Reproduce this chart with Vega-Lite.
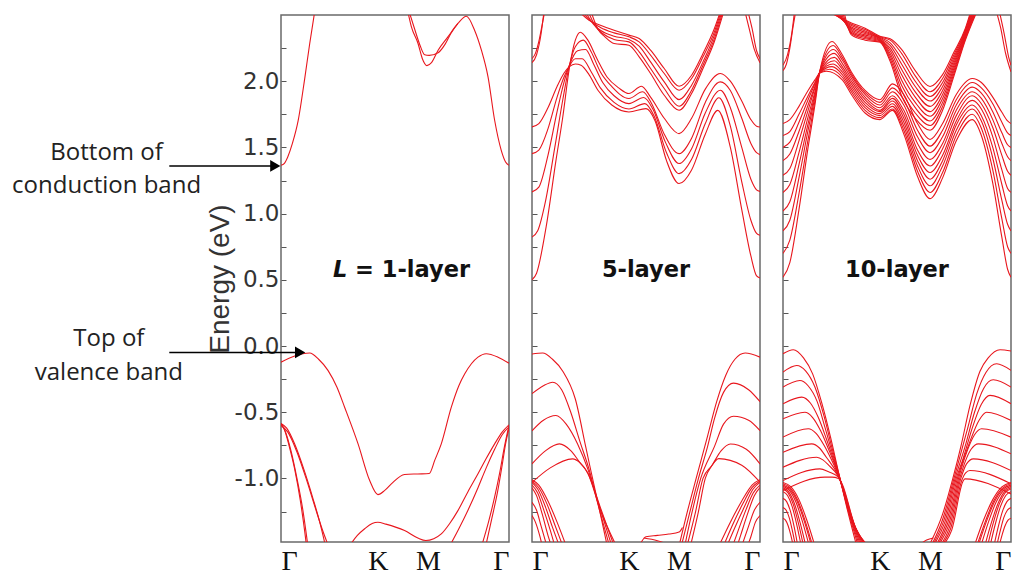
{
"$schema":"https://vega.github.io/schema/vega-lite/v6.json",
"background":"white",
"padding":{"left":11,"top":14,"right":4,"bottom":0},
"config":{"view":{"stroke":"#6a6a6a","strokeWidth":1.5},"concat":{"spacing":20},"axis":{"grid":false,"domain":false,"tickColor":"#555"}},
"datasets":{
"p1":[
{"s":"c1","x":0,"e":1.365},{"s":"c1","x":0.015,"e":1.38},{"s":"c1","x":0.03,"e":1.43},{"s":"c1","x":0.05,"e":1.53},{"s":"c1","x":0.075,"e":1.70},{"s":"c1","x":0.104,"e":2.02},{"s":"c1","x":0.126,"e":2.285},{"s":"c1","x":0.15,"e":2.55},
{"s":"c2","x":0.557,"e":2.52},{"s":"c2","x":0.572,"e":2.41},{"s":"c2","x":0.601,"e":2.285},{"s":"c2","x":0.62,"e":2.17},{"s":"c2","x":0.64,"e":2.118},{"s":"c2","x":0.66,"e":2.14},{"s":"c2","x":0.689,"e":2.234},{"s":"c2","x":0.732,"e":2.335},{"s":"c2","x":0.776,"e":2.436},{"s":"c2","x":0.813,"e":2.49},{"s":"c2","x":0.849,"e":2.385},{"s":"c2","x":0.879,"e":2.234},{"s":"c2","x":0.908,"e":2.033},{"s":"c2","x":0.937,"e":1.705},{"s":"c2","x":0.966,"e":1.478},{"s":"c2","x":0.985,"e":1.39},{"s":"c2","x":1,"e":1.365},
{"s":"c3","x":0.563,"e":2.52},{"s":"c3","x":0.585,"e":2.40},{"s":"c3","x":0.61,"e":2.27},{"s":"c3","x":0.63,"e":2.20},{"s":"c3","x":0.65,"e":2.195},{"s":"c3","x":0.689,"e":2.215},{"s":"c3","x":0.72,"e":2.28},{"s":"c3","x":0.745,"e":2.36},{"s":"c3","x":0.776,"e":2.436},
{"s":"v1","x":0,"e":-0.122},{"s":"v1","x":0.06,"e":-0.075},{"s":"v1","x":0.126,"e":-0.053},{"s":"v1","x":0.165,"e":-0.10},{"s":"v1","x":0.206,"e":-0.184},{"s":"v1","x":0.245,"e":-0.31},{"s":"v1","x":0.279,"e":-0.462},{"s":"v1","x":0.338,"e":-0.739},{"s":"v1","x":0.389,"e":-1.016},{"s":"v1","x":0.425,"e":-1.122},{"s":"v1","x":0.455,"e":-1.09},{"s":"v1","x":0.484,"e":-1.041},{"s":"v1","x":0.542,"e":-0.97},{"s":"v1","x":0.60,"e":-0.966},{"s":"v1","x":0.65,"e":-0.963},{"s":"v1","x":0.675,"e":-0.86},{"s":"v1","x":0.703,"e":-0.739},{"s":"v1","x":0.747,"e":-0.462},{"s":"v1","x":0.78,"e":-0.30},{"s":"v1","x":0.806,"e":-0.21},{"s":"v1","x":0.864,"e":-0.084},{"s":"v1","x":0.9,"e":-0.058},{"s":"v1","x":0.952,"e":-0.084},{"s":"v1","x":1,"e":-0.13},
{"s":"v2","x":0.30,"e":-1.51},{"s":"v2","x":0.335,"e":-1.43},{"s":"v2","x":0.367,"e":-1.38},{"s":"v2","x":0.40,"e":-1.34},{"s":"v2","x":0.425,"e":-1.331},{"s":"v2","x":0.46,"e":-1.345},{"s":"v2","x":0.542,"e":-1.394},{"s":"v2","x":0.60,"e":-1.45},{"s":"v2","x":0.635,"e":-1.469},{"s":"v2","x":0.67,"e":-1.455},{"s":"v2","x":0.703,"e":-1.419},{"s":"v2","x":0.74,"e":-1.34},{"s":"v2","x":0.776,"e":-1.243},{"s":"v2","x":0.82,"e":-1.10},{"s":"v2","x":0.864,"e":-0.965},{"s":"v2","x":0.90,"e":-0.85},{"s":"v2","x":0.937,"e":-0.739},{"s":"v2","x":0.97,"e":-0.65},{"s":"v2","x":1,"e":-0.595},
{"s":"v3","x":0.74,"e":-1.51},{"s":"v3","x":0.78,"e":-1.38},{"s":"v3","x":0.82,"e":-1.24},{"s":"v3","x":0.864,"e":-1.07},{"s":"v3","x":0.90,"e":-0.92},{"s":"v3","x":0.937,"e":-0.78},{"s":"v3","x":0.97,"e":-0.67},{"s":"v3","x":1,"e":-0.61},
{"s":"v4","x":0.88,"e":-1.51},{"s":"v4","x":0.91,"e":-1.33},{"s":"v4","x":0.937,"e":-1.14},{"s":"v4","x":0.96,"e":-0.95},{"s":"v4","x":0.98,"e":-0.76},{"s":"v4","x":1,"e":-0.60},
{"s":"v5","x":0.898,"e":-1.51},{"s":"v5","x":0.925,"e":-1.30},{"s":"v5","x":0.95,"e":-1.10},{"s":"v5","x":0.97,"e":-0.90},{"s":"v5","x":0.985,"e":-0.74},{"s":"v5","x":1,"e":-0.62},
{"s":"l1","x":0,"e":-0.585},{"s":"l1","x":0.015,"e":-0.63},{"s":"l1","x":0.035,"e":-0.75},{"s":"l1","x":0.06,"e":-0.93},{"s":"l1","x":0.085,"e":-1.17},{"s":"l1","x":0.104,"e":-1.40},{"s":"l1","x":0.112,"e":-1.51},
{"s":"l2","x":0,"e":-0.59},{"s":"l2","x":0.02,"e":-0.65},{"s":"l2","x":0.045,"e":-0.80},{"s":"l2","x":0.07,"e":-1.0},{"s":"l2","x":0.095,"e":-1.23},{"s":"l2","x":0.118,"e":-1.51},
{"s":"l3","x":0,"e":-0.585},{"s":"l3","x":0.025,"e":-0.62},{"s":"l3","x":0.06,"e":-0.74},{"s":"l3","x":0.10,"e":-0.93},{"s":"l3","x":0.14,"e":-1.15},{"s":"l3","x":0.17,"e":-1.33},{"s":"l3","x":0.195,"e":-1.51},
{"s":"l4","x":0,"e":-0.60},{"s":"l4","x":0.03,"e":-0.65},{"s":"l4","x":0.07,"e":-0.80},{"s":"l4","x":0.11,"e":-1.0},{"s":"l4","x":0.15,"e":-1.22},{"s":"l4","x":0.18,"e":-1.38},{"s":"l4","x":0.208,"e":-1.51}
],
"p2":[
{"s":"A","x":0,"e":0.50},{"s":"A","x":0.02,"e":0.55},{"s":"A","x":0.062,"e":0.90},{"s":"A","x":0.105,"e":1.40},{"s":"A","x":0.135,"e":1.73},{"s":"A","x":0.164,"e":2.10},{"s":"A","x":0.19,"e":2.31},{"s":"A","x":0.212,"e":2.37},{"s":"A","x":0.245,"e":2.31},{"s":"A","x":0.285,"e":2.17},{"s":"A","x":0.33,"e":2.03},{"s":"A","x":0.38,"e":1.95},{"s":"A","x":0.425,"e":1.907},{"s":"A","x":0.48,"e":1.962},{"s":"A","x":0.52,"e":1.88},{"s":"A","x":0.58,"e":1.72},{"s":"A","x":0.645,"e":1.604},{"s":"A","x":0.70,"e":1.72},{"s":"A","x":0.76,"e":1.94},{"s":"A","x":0.826,"e":2.058},{"s":"A","x":0.87,"e":2.00},{"s":"A","x":0.92,"e":1.85},{"s":"A","x":0.96,"e":1.71},{"s":"A","x":0.985,"e":1.66},{"s":"A","x":1,"e":1.654},
{"s":"B","x":0,"e":0.823},{"s":"B","x":0.025,"e":0.87},{"s":"B","x":0.06,"e":1.10},{"s":"B","x":0.10,"e":1.50},{"s":"B","x":0.135,"e":1.86},{"s":"B","x":0.164,"e":2.12},{"s":"B","x":0.19,"e":2.26},{"s":"B","x":0.225,"e":2.31},{"s":"B","x":0.26,"e":2.22},{"s":"B","x":0.30,"e":2.07},{"s":"B","x":0.35,"e":1.96},{"s":"B","x":0.425,"e":1.869},{"s":"B","x":0.485,"e":1.92},{"s":"B","x":0.525,"e":1.83},{"s":"B","x":0.58,"e":1.60},{"s":"B","x":0.645,"e":1.453},{"s":"B","x":0.70,"e":1.57},{"s":"B","x":0.76,"e":1.84},{"s":"B","x":0.826,"e":1.995},{"s":"B","x":0.87,"e":1.93},{"s":"B","x":0.92,"e":1.72},{"s":"B","x":0.96,"e":1.53},{"s":"B","x":0.985,"e":1.46},{"s":"B","x":1,"e":1.445},
{"s":"C","x":0,"e":1.164},{"s":"C","x":0.03,"e":1.20},{"s":"C","x":0.07,"e":1.44},{"s":"C","x":0.11,"e":1.77},{"s":"C","x":0.14,"e":1.99},{"s":"C","x":0.164,"e":2.12},{"s":"C","x":0.20,"e":2.23},{"s":"C","x":0.235,"e":2.24},{"s":"C","x":0.27,"e":2.13},{"s":"C","x":0.31,"e":1.99},{"s":"C","x":0.36,"e":1.89},{"s":"C","x":0.425,"e":1.831},{"s":"C","x":0.49,"e":1.877},{"s":"C","x":0.53,"e":1.79},{"s":"C","x":0.585,"e":1.54},{"s":"C","x":0.645,"e":1.378},{"s":"C","x":0.70,"e":1.49},{"s":"C","x":0.76,"e":1.76},{"s":"C","x":0.826,"e":1.932},{"s":"C","x":0.87,"e":1.80},{"s":"C","x":0.92,"e":1.50},{"s":"C","x":0.96,"e":1.26},{"s":"C","x":0.985,"e":1.18},{"s":"C","x":1,"e":1.168},
{"s":"D","x":0,"e":1.453},{"s":"D","x":0.03,"e":1.48},{"s":"D","x":0.07,"e":1.64},{"s":"D","x":0.11,"e":1.88},{"s":"D","x":0.14,"e":2.03},{"s":"D","x":0.164,"e":2.115},{"s":"D","x":0.19,"e":2.17},{"s":"D","x":0.22,"e":2.17},{"s":"D","x":0.26,"e":2.07},{"s":"D","x":0.30,"e":1.95},{"s":"D","x":0.36,"e":1.84},{"s":"D","x":0.425,"e":1.79},{"s":"D","x":0.495,"e":1.831},{"s":"D","x":0.535,"e":1.74},{"s":"D","x":0.59,"e":1.46},{"s":"D","x":0.645,"e":1.302},{"s":"D","x":0.70,"e":1.41},{"s":"D","x":0.76,"e":1.68},{"s":"D","x":0.82,"e":1.875},{"s":"D","x":0.87,"e":1.66},{"s":"D","x":0.92,"e":1.24},{"s":"D","x":0.96,"e":0.95},{"s":"D","x":0.985,"e":0.85},{"s":"D","x":1,"e":0.836},
{"s":"E","x":0,"e":1.655},{"s":"E","x":0.03,"e":1.68},{"s":"E","x":0.07,"e":1.80},{"s":"E","x":0.11,"e":1.96},{"s":"E","x":0.14,"e":2.06},{"s":"E","x":0.164,"e":2.11},{"s":"E","x":0.19,"e":2.13},{"s":"E","x":0.215,"e":2.12},{"s":"E","x":0.25,"e":2.05},{"s":"E","x":0.29,"e":1.93},{"s":"E","x":0.35,"e":1.82},{"s":"E","x":0.425,"e":1.768},{"s":"E","x":0.50,"e":1.793},{"s":"E","x":0.54,"e":1.70},{"s":"E","x":0.59,"e":1.40},{"s":"E","x":0.645,"e":1.227},{"s":"E","x":0.70,"e":1.33},{"s":"E","x":0.76,"e":1.60},{"s":"E","x":0.815,"e":1.78},{"s":"E","x":0.87,"e":1.50},{"s":"E","x":0.92,"e":1.03},{"s":"E","x":0.96,"e":0.68},{"s":"E","x":0.985,"e":0.53},{"s":"E","x":1,"e":0.514},
{"s":"U1","x":0.21,"e":2.52},{"s":"U1","x":0.25,"e":2.46},{"s":"U1","x":0.30,"e":2.423},{"s":"U1","x":0.36,"e":2.385},{"s":"U1","x":0.425,"e":2.348},{"s":"U1","x":0.47,"e":2.322},{"s":"U1","x":0.52,"e":2.234},{"s":"U1","x":0.58,"e":2.096},{"s":"U1","x":0.645,"e":1.962},{"s":"U1","x":0.70,"e":2.045},{"s":"U1","x":0.75,"e":2.209},{"s":"U1","x":0.80,"e":2.398},{"s":"U1","x":0.825,"e":2.52},
{"s":"U2","x":0.222,"e":2.52},{"s":"U2","x":0.26,"e":2.45},{"s":"U2","x":0.30,"e":2.406},{"s":"U2","x":0.36,"e":2.365},{"s":"U2","x":0.425,"e":2.335},{"s":"U2","x":0.47,"e":2.297},{"s":"U2","x":0.52,"e":2.197},{"s":"U2","x":0.58,"e":2.058},{"s":"U2","x":0.645,"e":1.932},{"s":"U2","x":0.70,"e":2.02},{"s":"U2","x":0.75,"e":2.184},{"s":"U2","x":0.80,"e":2.373},{"s":"U2","x":0.828,"e":2.52},
{"s":"U3","x":0.235,"e":2.52},{"s":"U3","x":0.27,"e":2.43},{"s":"U3","x":0.30,"e":2.385},{"s":"U3","x":0.36,"e":2.34},{"s":"U3","x":0.425,"e":2.315},{"s":"U3","x":0.47,"e":2.265},{"s":"U3","x":0.52,"e":2.146},{"s":"U3","x":0.58,"e":1.995},{"s":"U3","x":0.645,"e":1.861},{"s":"U3","x":0.70,"e":1.97},{"s":"U3","x":0.75,"e":2.146},{"s":"U3","x":0.80,"e":2.348},{"s":"U3","x":0.832,"e":2.52},
{"s":"U4","x":0.248,"e":2.52},{"s":"U4","x":0.28,"e":2.41},{"s":"U4","x":0.31,"e":2.36},{"s":"U4","x":0.36,"e":2.315},{"s":"U4","x":0.425,"e":2.297},{"s":"U4","x":0.47,"e":2.222},{"s":"U4","x":0.52,"e":2.096},{"s":"U4","x":0.58,"e":1.945},{"s":"U4","x":0.645,"e":1.811},{"s":"U4","x":0.70,"e":1.932},{"s":"U4","x":0.75,"e":2.121},{"s":"U4","x":0.80,"e":2.322},{"s":"U4","x":0.836,"e":2.52},
{"s":"U5","x":0.26,"e":2.52},{"s":"U5","x":0.29,"e":2.39},{"s":"U5","x":0.32,"e":2.335},{"s":"U5","x":0.36,"e":2.285},{"s":"U5","x":0.425,"e":2.272},{"s":"U5","x":0.47,"e":2.184},{"s":"U5","x":0.52,"e":2.058},{"s":"U5","x":0.58,"e":1.894},{"s":"U5","x":0.645,"e":1.781},{"s":"U5","x":0.70,"e":1.907},{"s":"U5","x":0.75,"e":2.096},{"s":"U5","x":0.80,"e":2.30},{"s":"U5","x":0.84,"e":2.52},
{"s":"G1","x":0,"e":2.17},{"s":"G1","x":0.015,"e":2.21},{"s":"G1","x":0.03,"e":2.30},{"s":"G1","x":0.045,"e":2.43},{"s":"G1","x":0.055,"e":2.52},
{"s":"G2","x":0,"e":2.14},{"s":"G2","x":0.02,"e":2.20},{"s":"G2","x":0.04,"e":2.36},{"s":"G2","x":0.052,"e":2.52},
{"s":"G3","x":0.935,"e":2.52},{"s":"G3","x":0.955,"e":2.38},{"s":"G3","x":0.975,"e":2.24},{"s":"G3","x":1,"e":2.14},
{"s":"G4","x":0.948,"e":2.52},{"s":"G4","x":0.965,"e":2.40},{"s":"G4","x":0.985,"e":2.23},{"s":"G4","x":1,"e":2.17},
{"s":"V1L","x":0,"e":-0.06},{"s":"V1L","x":0.047,"e":-0.053},{"s":"V1L","x":0.09,"e":-0.10},{"s":"V1L","x":0.135,"e":-0.19},{"s":"V1L","x":0.19,"e":-0.40},{"s":"V1L","x":0.236,"e":-0.764},{"s":"V1L","x":0.258,"e":-0.94},{"s":"V1L","x":0.29,"e":-1.19},{"s":"V1L","x":0.33,"e":-1.51},
{"s":"V2L","x":0,"e":-0.36},{"s":"V2L","x":0.05,"e":-0.30},{"s":"V2L","x":0.091,"e":-0.273},{"s":"V2L","x":0.13,"e":-0.33},{"s":"V2L","x":0.17,"e":-0.50},{"s":"V2L","x":0.21,"e":-0.72},{"s":"V2L","x":0.25,"e":-0.93},{"s":"V2L","x":0.29,"e":-1.20},{"s":"V2L","x":0.34,"e":-1.51},
{"s":"V3L","x":0,"e":-0.64},{"s":"V3L","x":0.05,"e":-0.56},{"s":"V3L","x":0.105,"e":-0.525},{"s":"V3L","x":0.15,"e":-0.59},{"s":"V3L","x":0.20,"e":-0.74},{"s":"V3L","x":0.245,"e":-0.93},{"s":"V3L","x":0.29,"e":-1.18},{"s":"V3L","x":0.35,"e":-1.51},
{"s":"V4L","x":0,"e":-0.89},{"s":"V4L","x":0.06,"e":-0.79},{"s":"V4L","x":0.12,"e":-0.739},{"s":"V4L","x":0.17,"e":-0.79},{"s":"V4L","x":0.21,"e":-0.88},{"s":"V4L","x":0.245,"e":-0.96},{"s":"V4L","x":0.30,"e":-1.22},{"s":"V4L","x":0.36,"e":-1.51},
{"s":"V5L","x":0,"e":-1.03},{"s":"V5L","x":0.08,"e":-0.92},{"s":"V5L","x":0.178,"e":-0.852},{"s":"V5L","x":0.21,"e":-0.88},{"s":"V5L","x":0.245,"e":-0.96},{"s":"V5L","x":0.30,"e":-1.24},{"s":"V5L","x":0.37,"e":-1.51},
{"s":"V1R","x":1,"e":-0.084},{"s":"V1R","x":0.935,"e":-0.053},{"s":"V1R","x":0.89,"e":-0.10},{"s":"V1R","x":0.85,"e":-0.22},{"s":"V1R","x":0.81,"e":-0.42},{"s":"V1R","x":0.77,"e":-0.68},{"s":"V1R","x":0.72,"e":-1.0},{"s":"V1R","x":0.68,"e":-1.26},{"s":"V1R","x":0.645,"e":-1.51},
{"s":"V2R","x":1,"e":-0.42},{"s":"V2R","x":0.95,"e":-0.33},{"s":"V2R","x":0.884,"e":-0.28},{"s":"V2R","x":0.84,"e":-0.35},{"s":"V2R","x":0.80,"e":-0.55},{"s":"V2R","x":0.77,"e":-0.76},{"s":"V2R","x":0.73,"e":-1.0},{"s":"V2R","x":0.69,"e":-1.27},{"s":"V2R","x":0.655,"e":-1.51},
{"s":"V3R","x":1,"e":-0.638},{"s":"V3R","x":0.95,"e":-0.56},{"s":"V3R","x":0.884,"e":-0.53},{"s":"V3R","x":0.84,"e":-0.59},{"s":"V3R","x":0.80,"e":-0.76},{"s":"V3R","x":0.74,"e":-1.0},{"s":"V3R","x":0.70,"e":-1.27},{"s":"V3R","x":0.67,"e":-1.51},
{"s":"V4R","x":1,"e":-0.89},{"s":"V4R","x":0.94,"e":-0.78},{"s":"V4R","x":0.87,"e":-0.74},{"s":"V4R","x":0.83,"e":-0.79},{"s":"V4R","x":0.79,"e":-0.90},{"s":"V4R","x":0.75,"e":-1.0},{"s":"V4R","x":0.715,"e":-1.27},{"s":"V4R","x":0.68,"e":-1.51},
{"s":"V5R","x":1,"e":-1.028},{"s":"V5R","x":0.92,"e":-0.90},{"s":"V5R","x":0.819,"e":-0.85},{"s":"V5R","x":0.79,"e":-0.90},{"s":"V5R","x":0.76,"e":-1.0},{"s":"V5R","x":0.73,"e":-1.25},{"s":"V5R","x":0.695,"e":-1.51},
{"s":"BM1","x":0.47,"e":-1.51},{"s":"BM1","x":0.50,"e":-1.44},{"s":"BM1","x":0.55,"e":-1.43},{"s":"BM1","x":0.60,"e":-1.42},{"s":"BM1","x":0.645,"e":-1.405},{"s":"BM1","x":0.66,"e":-1.37},
{"s":"BM2","x":0.49,"e":-1.45},{"s":"BM2","x":0.55,"e":-1.47},{"s":"BM2","x":0.60,"e":-1.50},
{"s":"c1","x":0,"e":-1.01},{"s":"c1","x":0.03,"e":-1.05},{"s":"c1","x":0.07,"e":-1.17},{"s":"c1","x":0.11,"e":-1.33},{"s":"c1","x":0.15,"e":-1.51},
{"s":"c2","x":0,"e":-1.02},{"s":"c2","x":0.03,"e":-1.07},{"s":"c2","x":0.065,"e":-1.19},{"s":"c2","x":0.10,"e":-1.35},{"s":"c2","x":0.135,"e":-1.51},
{"s":"c3","x":0,"e":-1.03},{"s":"c3","x":0.025,"e":-1.08},{"s":"c3","x":0.06,"e":-1.22},{"s":"c3","x":0.09,"e":-1.37},{"s":"c3","x":0.12,"e":-1.51},
{"s":"c4","x":0,"e":-1.05},{"s":"c4","x":0.025,"e":-1.11},{"s":"c4","x":0.05,"e":-1.23},{"s":"c4","x":0.08,"e":-1.39},{"s":"c4","x":0.10,"e":-1.51},
{"s":"c5","x":0,"e":-1.07},{"s":"c5","x":0.02,"e":-1.13},{"s":"c5","x":0.045,"e":-1.27},{"s":"c5","x":0.07,"e":-1.43},{"s":"c5","x":0.085,"e":-1.51},
{"s":"c6","x":0,"e":-1.18},{"s":"c6","x":0.02,"e":-1.24},{"s":"c6","x":0.04,"e":-1.36},{"s":"c6","x":0.065,"e":-1.51},
{"s":"c7","x":0,"e":-1.28},{"s":"c7","x":0.015,"e":-1.33},{"s":"c7","x":0.035,"e":-1.44},{"s":"c7","x":0.045,"e":-1.51},
{"s":"r1","x":1,"e":-1.01},{"s":"r1","x":0.965,"e":-1.05},{"s":"r1","x":0.92,"e":-1.17},{"s":"r1","x":0.87,"e":-1.33},{"s":"r1","x":0.82,"e":-1.51},
{"s":"r2","x":1,"e":-1.02},{"s":"r2","x":0.965,"e":-1.07},{"s":"r2","x":0.925,"e":-1.19},{"s":"r2","x":0.88,"e":-1.35},{"s":"r2","x":0.84,"e":-1.51},
{"s":"r3","x":1,"e":-1.03},{"s":"r3","x":0.97,"e":-1.08},{"s":"r3","x":0.93,"e":-1.22},{"s":"r3","x":0.89,"e":-1.37},{"s":"r3","x":0.855,"e":-1.51},
{"s":"r4","x":1,"e":-1.05},{"s":"r4","x":0.97,"e":-1.11},{"s":"r4","x":0.94,"e":-1.23},{"s":"r4","x":0.905,"e":-1.39},{"s":"r4","x":0.88,"e":-1.51},
{"s":"r5","x":1,"e":-1.07},{"s":"r5","x":0.975,"e":-1.13},{"s":"r5","x":0.945,"e":-1.27},{"s":"r5","x":0.915,"e":-1.43},{"s":"r5","x":0.90,"e":-1.51},
{"s":"r6","x":1,"e":-1.18},{"s":"r6","x":0.975,"e":-1.24},{"s":"r6","x":0.95,"e":-1.36},{"s":"r6","x":0.92,"e":-1.51},
{"s":"r7","x":1,"e":-1.28},{"s":"r7","x":0.98,"e":-1.33},{"s":"r7","x":0.96,"e":-1.44},{"s":"r7","x":0.945,"e":-1.51}
],
"p3":[
{"s":"M1","x":0,"e":0.52},{"s":"M1","x":0.03,"e":0.63},{"s":"M1","x":0.07,"e":1.03},{"s":"M1","x":0.11,"e":1.50},{"s":"M1","x":0.14,"e":1.82},{"s":"M1","x":0.162,"e":2.08},{"s":"M1","x":0.215,"e":2.30},{"s":"M1","x":0.26,"e":2.20},{"s":"M1","x":0.30,"e":2.07},{"s":"M1","x":0.36,"e":1.93},{"s":"M1","x":0.425,"e":1.86},{"s":"M1","x":0.48,"e":1.98},{"s":"M1","x":0.53,"e":1.90},{"s":"M1","x":0.59,"e":1.68},{"s":"M1","x":0.645,"e":1.56},{"s":"M1","x":0.70,"e":1.68},{"s":"M1","x":0.76,"e":1.90},{"s":"M1","x":0.83,"e":2.02},{"s":"M1","x":0.87,"e":1.99},{"s":"M1","x":0.92,"e":1.88},{"s":"M1","x":0.96,"e":1.765},{"s":"M1","x":0.985,"e":1.70},{"s":"M1","x":1,"e":1.68},
{"s":"M2","x":0,"e":0.70},{"s":"M2","x":0.03,"e":0.80},{"s":"M2","x":0.07,"e":1.15},{"s":"M2","x":0.11,"e":1.56},{"s":"M2","x":0.14,"e":1.85},{"s":"M2","x":0.162,"e":2.078},{"s":"M2","x":0.22,"e":2.27},{"s":"M2","x":0.26,"e":2.18},{"s":"M2","x":0.30,"e":2.055},{"s":"M2","x":0.36,"e":1.915},{"s":"M2","x":0.425,"e":1.84},{"s":"M2","x":0.48,"e":1.95},{"s":"M2","x":0.53,"e":1.86},{"s":"M2","x":0.59,"e":1.63},{"s":"M2","x":0.645,"e":1.51},{"s":"M2","x":0.70,"e":1.63},{"s":"M2","x":0.76,"e":1.86},{"s":"M2","x":0.83,"e":1.99},{"s":"M2","x":0.87,"e":1.95},{"s":"M2","x":0.92,"e":1.83},{"s":"M2","x":0.96,"e":1.69},{"s":"M2","x":0.985,"e":1.61},{"s":"M2","x":1,"e":1.59},
{"s":"M3","x":0,"e":0.87},{"s":"M3","x":0.03,"e":0.95},{"s":"M3","x":0.07,"e":1.27},{"s":"M3","x":0.11,"e":1.63},{"s":"M3","x":0.14,"e":1.88},{"s":"M3","x":0.162,"e":2.076},{"s":"M3","x":0.222,"e":2.24},{"s":"M3","x":0.26,"e":2.16},{"s":"M3","x":0.30,"e":2.04},{"s":"M3","x":0.36,"e":1.90},{"s":"M3","x":0.425,"e":1.82},{"s":"M3","x":0.48,"e":1.92},{"s":"M3","x":0.53,"e":1.82},{"s":"M3","x":0.59,"e":1.58},{"s":"M3","x":0.645,"e":1.46},{"s":"M3","x":0.70,"e":1.58},{"s":"M3","x":0.76,"e":1.82},{"s":"M3","x":0.83,"e":1.955},{"s":"M3","x":0.87,"e":1.91},{"s":"M3","x":0.92,"e":1.77},{"s":"M3","x":0.96,"e":1.61},{"s":"M3","x":0.985,"e":1.52},{"s":"M3","x":1,"e":1.50},
{"s":"M4","x":0,"e":1.02},{"s":"M4","x":0.03,"e":1.09},{"s":"M4","x":0.07,"e":1.37},{"s":"M4","x":0.11,"e":1.68},{"s":"M4","x":0.14,"e":1.90},{"s":"M4","x":0.162,"e":2.074},{"s":"M4","x":0.225,"e":2.21},{"s":"M4","x":0.26,"e":2.135},{"s":"M4","x":0.30,"e":2.02},{"s":"M4","x":0.36,"e":1.88},{"s":"M4","x":0.425,"e":1.80},{"s":"M4","x":0.48,"e":1.89},{"s":"M4","x":0.53,"e":1.78},{"s":"M4","x":0.59,"e":1.53},{"s":"M4","x":0.645,"e":1.41},{"s":"M4","x":0.70,"e":1.53},{"s":"M4","x":0.76,"e":1.78},{"s":"M4","x":0.83,"e":1.92},{"s":"M4","x":0.87,"e":1.87},{"s":"M4","x":0.92,"e":1.71},{"s":"M4","x":0.96,"e":1.53},{"s":"M4","x":0.985,"e":1.43},{"s":"M4","x":1,"e":1.40},
{"s":"M5","x":0,"e":1.16},{"s":"M5","x":0.03,"e":1.22},{"s":"M5","x":0.07,"e":1.46},{"s":"M5","x":0.11,"e":1.73},{"s":"M5","x":0.14,"e":1.92},{"s":"M5","x":0.162,"e":2.072},{"s":"M5","x":0.225,"e":2.18},{"s":"M5","x":0.26,"e":2.11},{"s":"M5","x":0.30,"e":2.0},{"s":"M5","x":0.36,"e":1.86},{"s":"M5","x":0.425,"e":1.78},{"s":"M5","x":0.48,"e":1.87},{"s":"M5","x":0.53,"e":1.75},{"s":"M5","x":0.59,"e":1.48},{"s":"M5","x":0.645,"e":1.36},{"s":"M5","x":0.70,"e":1.49},{"s":"M5","x":0.76,"e":1.74},{"s":"M5","x":0.83,"e":1.89},{"s":"M5","x":0.87,"e":1.83},{"s":"M5","x":0.92,"e":1.65},{"s":"M5","x":0.96,"e":1.44},{"s":"M5","x":0.985,"e":1.32},{"s":"M5","x":1,"e":1.29},
{"s":"M6","x":0,"e":1.29},{"s":"M6","x":0.03,"e":1.34},{"s":"M6","x":0.07,"e":1.55},{"s":"M6","x":0.11,"e":1.78},{"s":"M6","x":0.14,"e":1.95},{"s":"M6","x":0.162,"e":2.07},{"s":"M6","x":0.225,"e":2.155},{"s":"M6","x":0.26,"e":2.09},{"s":"M6","x":0.30,"e":1.98},{"s":"M6","x":0.36,"e":1.84},{"s":"M6","x":0.425,"e":1.77},{"s":"M6","x":0.48,"e":1.85},{"s":"M6","x":0.53,"e":1.72},{"s":"M6","x":0.59,"e":1.44},{"s":"M6","x":0.645,"e":1.31},{"s":"M6","x":0.70,"e":1.44},{"s":"M6","x":0.76,"e":1.70},{"s":"M6","x":0.83,"e":1.855},{"s":"M6","x":0.87,"e":1.79},{"s":"M6","x":0.92,"e":1.58},{"s":"M6","x":0.96,"e":1.33},{"s":"M6","x":0.985,"e":1.19},{"s":"M6","x":1,"e":1.16},
{"s":"M7","x":0,"e":1.40},{"s":"M7","x":0.03,"e":1.45},{"s":"M7","x":0.07,"e":1.62},{"s":"M7","x":0.11,"e":1.82},{"s":"M7","x":0.14,"e":1.96},{"s":"M7","x":0.162,"e":2.068},{"s":"M7","x":0.22,"e":2.13},{"s":"M7","x":0.26,"e":2.07},{"s":"M7","x":0.30,"e":1.96},{"s":"M7","x":0.36,"e":1.82},{"s":"M7","x":0.425,"e":1.755},{"s":"M7","x":0.48,"e":1.83},{"s":"M7","x":0.53,"e":1.69},{"s":"M7","x":0.59,"e":1.40},{"s":"M7","x":0.645,"e":1.26},{"s":"M7","x":0.70,"e":1.40},{"s":"M7","x":0.76,"e":1.67},{"s":"M7","x":0.83,"e":1.82},{"s":"M7","x":0.87,"e":1.74},{"s":"M7","x":0.92,"e":1.50},{"s":"M7","x":0.96,"e":1.22},{"s":"M7","x":0.985,"e":1.06},{"s":"M7","x":1,"e":1.02},
{"s":"M8","x":0,"e":1.50},{"s":"M8","x":0.03,"e":1.54},{"s":"M8","x":0.07,"e":1.69},{"s":"M8","x":0.11,"e":1.86},{"s":"M8","x":0.14,"e":1.98},{"s":"M8","x":0.162,"e":2.066},{"s":"M8","x":0.215,"e":2.11},{"s":"M8","x":0.26,"e":2.05},{"s":"M8","x":0.30,"e":1.94},{"s":"M8","x":0.36,"e":1.80},{"s":"M8","x":0.425,"e":1.74},{"s":"M8","x":0.48,"e":1.81},{"s":"M8","x":0.53,"e":1.66},{"s":"M8","x":0.59,"e":1.36},{"s":"M8","x":0.645,"e":1.21},{"s":"M8","x":0.70,"e":1.36},{"s":"M8","x":0.76,"e":1.63},{"s":"M8","x":0.83,"e":1.79},{"s":"M8","x":0.87,"e":1.70},{"s":"M8","x":0.92,"e":1.42},{"s":"M8","x":0.96,"e":1.10},{"s":"M8","x":0.985,"e":0.92},{"s":"M8","x":1,"e":0.87},
{"s":"M9","x":0,"e":1.59},{"s":"M9","x":0.03,"e":1.62},{"s":"M9","x":0.07,"e":1.75},{"s":"M9","x":0.11,"e":1.89},{"s":"M9","x":0.14,"e":1.99},{"s":"M9","x":0.162,"e":2.064},{"s":"M9","x":0.205,"e":2.09},{"s":"M9","x":0.26,"e":2.03},{"s":"M9","x":0.30,"e":1.92},{"s":"M9","x":0.36,"e":1.78},{"s":"M9","x":0.425,"e":1.725},{"s":"M9","x":0.48,"e":1.79},{"s":"M9","x":0.53,"e":1.63},{"s":"M9","x":0.59,"e":1.32},{"s":"M9","x":0.645,"e":1.16},{"s":"M9","x":0.70,"e":1.31},{"s":"M9","x":0.76,"e":1.59},{"s":"M9","x":0.83,"e":1.75},{"s":"M9","x":0.87,"e":1.645},{"s":"M9","x":0.92,"e":1.33},{"s":"M9","x":0.96,"e":0.96},{"s":"M9","x":0.985,"e":0.75},{"s":"M9","x":1,"e":0.70},
{"s":"M10","x":0,"e":1.68},{"s":"M10","x":0.03,"e":1.71},{"s":"M10","x":0.07,"e":1.81},{"s":"M10","x":0.11,"e":1.93},{"s":"M10","x":0.14,"e":2.01},{"s":"M10","x":0.162,"e":2.062},{"s":"M10","x":0.19,"e":2.075},{"s":"M10","x":0.26,"e":2.01},{"s":"M10","x":0.30,"e":1.90},{"s":"M10","x":0.36,"e":1.76},{"s":"M10","x":0.425,"e":1.71},{"s":"M10","x":0.48,"e":1.78},{"s":"M10","x":0.53,"e":1.60},{"s":"M10","x":0.59,"e":1.28},{"s":"M10","x":0.645,"e":1.113},{"s":"M10","x":0.70,"e":1.27},{"s":"M10","x":0.76,"e":1.55},{"s":"M10","x":0.83,"e":1.71},{"s":"M10","x":0.87,"e":1.59},{"s":"M10","x":0.92,"e":1.23},{"s":"M10","x":0.96,"e":0.82},{"s":"M10","x":0.985,"e":0.58},{"s":"M10","x":1,"e":0.52},
{"s":"W1","x":0.205,"e":2.52},{"s":"W1","x":0.30,"e":2.44},{"s":"W1","x":0.36,"e":2.40},{"s":"W1","x":0.425,"e":2.34},{"s":"W1","x":0.47,"e":2.32},{"s":"W1","x":0.52,"e":2.24},{"s":"W1","x":0.58,"e":2.08},{"s":"W1","x":0.645,"e":1.96},{"s":"W1","x":0.70,"e":2.05},{"s":"W1","x":0.75,"e":2.22},{"s":"W1","x":0.80,"e":2.40},{"s":"W1","x":0.822,"e":2.52},
{"s":"W2","x":0.212,"e":2.52},{"s":"W2","x":0.30,"e":2.43},{"s":"W2","x":0.36,"e":2.39},{"s":"W2","x":0.425,"e":2.335},{"s":"W2","x":0.47,"e":2.31},{"s":"W2","x":0.52,"e":2.21},{"s":"W2","x":0.58,"e":2.04},{"s":"W2","x":0.645,"e":1.92},{"s":"W2","x":0.70,"e":2.02},{"s":"W2","x":0.75,"e":2.20},{"s":"W2","x":0.80,"e":2.39},{"s":"W2","x":0.825,"e":2.52},
{"s":"W3","x":0.219,"e":2.52},{"s":"W3","x":0.30,"e":2.42},{"s":"W3","x":0.36,"e":2.38},{"s":"W3","x":0.425,"e":2.33},{"s":"W3","x":0.47,"e":2.29},{"s":"W3","x":0.52,"e":2.17},{"s":"W3","x":0.58,"e":2.0},{"s":"W3","x":0.645,"e":1.885},{"s":"W3","x":0.70,"e":1.99},{"s":"W3","x":0.75,"e":2.18},{"s":"W3","x":0.80,"e":2.38},{"s":"W3","x":0.828,"e":2.52},
{"s":"W4","x":0.226,"e":2.52},{"s":"W4","x":0.30,"e":2.41},{"s":"W4","x":0.36,"e":2.37},{"s":"W4","x":0.425,"e":2.325},{"s":"W4","x":0.47,"e":2.27},{"s":"W4","x":0.52,"e":2.13},{"s":"W4","x":0.58,"e":1.96},{"s":"W4","x":0.645,"e":1.85},{"s":"W4","x":0.70,"e":1.96},{"s":"W4","x":0.75,"e":2.16},{"s":"W4","x":0.80,"e":2.37},{"s":"W4","x":0.831,"e":2.52},
{"s":"W5","x":0.233,"e":2.52},{"s":"W5","x":0.30,"e":2.40},{"s":"W5","x":0.36,"e":2.36},{"s":"W5","x":0.425,"e":2.32},{"s":"W5","x":0.47,"e":2.25},{"s":"W5","x":0.52,"e":2.09},{"s":"W5","x":0.58,"e":1.92},{"s":"W5","x":0.645,"e":1.81},{"s":"W5","x":0.70,"e":1.93},{"s":"W5","x":0.75,"e":2.14},{"s":"W5","x":0.80,"e":2.36},{"s":"W5","x":0.834,"e":2.52},
{"s":"W6","x":0.24,"e":2.52},{"s":"W6","x":0.30,"e":2.39},{"s":"W6","x":0.36,"e":2.35},{"s":"W6","x":0.425,"e":2.315},{"s":"W6","x":0.47,"e":2.23},{"s":"W6","x":0.52,"e":2.05},{"s":"W6","x":0.58,"e":1.88},{"s":"W6","x":0.645,"e":1.77},{"s":"W6","x":0.70,"e":1.90},{"s":"W6","x":0.75,"e":2.12},{"s":"W6","x":0.80,"e":2.35},{"s":"W6","x":0.837,"e":2.52},
{"s":"W7","x":0.247,"e":2.52},{"s":"W7","x":0.30,"e":2.38},{"s":"W7","x":0.36,"e":2.34},{"s":"W7","x":0.425,"e":2.31},{"s":"W7","x":0.47,"e":2.21},{"s":"W7","x":0.52,"e":2.01},{"s":"W7","x":0.58,"e":1.84},{"s":"W7","x":0.645,"e":1.735},{"s":"W7","x":0.70,"e":1.87},{"s":"W7","x":0.75,"e":2.10},{"s":"W7","x":0.80,"e":2.34},{"s":"W7","x":0.84,"e":2.52},
{"s":"W8","x":0.254,"e":2.52},{"s":"W8","x":0.30,"e":2.37},{"s":"W8","x":0.36,"e":2.33},{"s":"W8","x":0.425,"e":2.305},{"s":"W8","x":0.47,"e":2.19},{"s":"W8","x":0.52,"e":1.97},{"s":"W8","x":0.58,"e":1.80},{"s":"W8","x":0.645,"e":1.70},{"s":"W8","x":0.70,"e":1.84},{"s":"W8","x":0.75,"e":2.08},{"s":"W8","x":0.80,"e":2.33},{"s":"W8","x":0.843,"e":2.52},
{"s":"W9","x":0.261,"e":2.52},{"s":"W9","x":0.30,"e":2.36},{"s":"W9","x":0.36,"e":2.32},{"s":"W9","x":0.425,"e":2.30},{"s":"W9","x":0.47,"e":2.17},{"s":"W9","x":0.52,"e":1.93},{"s":"W9","x":0.58,"e":1.76},{"s":"W9","x":0.645,"e":1.665},{"s":"W9","x":0.70,"e":1.81},{"s":"W9","x":0.75,"e":2.06},{"s":"W9","x":0.80,"e":2.32},{"s":"W9","x":0.846,"e":2.52},
{"s":"W10","x":0.268,"e":2.52},{"s":"W10","x":0.30,"e":2.35},{"s":"W10","x":0.36,"e":2.31},{"s":"W10","x":0.425,"e":2.295},{"s":"W10","x":0.47,"e":2.15},{"s":"W10","x":0.52,"e":1.89},{"s":"W10","x":0.58,"e":1.72},{"s":"W10","x":0.645,"e":1.63},{"s":"W10","x":0.70,"e":1.78},{"s":"W10","x":0.75,"e":2.04},{"s":"W10","x":0.80,"e":2.31},{"s":"W10","x":0.849,"e":2.52},
{"s":"G1","x":0,"e":2.08},{"s":"G1","x":0.015,"e":2.13},{"s":"G1","x":0.03,"e":2.25},{"s":"G1","x":0.045,"e":2.42},{"s":"G1","x":0.055,"e":2.52},
{"s":"G2","x":0,"e":2.12},{"s":"G2","x":0.02,"e":2.20},{"s":"G2","x":0.04,"e":2.38},{"s":"G2","x":0.05,"e":2.52},
{"s":"G3","x":0.937,"e":2.52},{"s":"G3","x":0.955,"e":2.40},{"s":"G3","x":0.975,"e":2.22},{"s":"G3","x":1,"e":2.07},
{"s":"G4","x":0.95,"e":2.52},{"s":"G4","x":0.97,"e":2.36},{"s":"G4","x":0.99,"e":2.18},{"s":"G4","x":1,"e":2.12},
{"s":"K1","x":0,"e":-0.058},{"s":"K1","x":0.045,"e":-0.028},{"s":"K1","x":0.09,"e":-0.09},{"s":"K1","x":0.13,"e":-0.21},{"s":"K1","x":0.17,"e":-0.43},{"s":"K1","x":0.21,"e":-0.70},{"s":"K1","x":0.243,"e":-0.95},{"s":"K1","x":0.28,"e":-1.22},{"s":"K1","x":0.323,"e":-1.51},
{"s":"K2","x":0,"e":-0.197},{"s":"K2","x":0.06,"e":-0.147},{"s":"K2","x":0.10,"e":-0.19},{"s":"K2","x":0.14,"e":-0.31},{"s":"K2","x":0.18,"e":-0.53},{"s":"K2","x":0.215,"e":-0.77},{"s":"K2","x":0.243,"e":-0.955},{"s":"K2","x":0.285,"e":-1.24},{"s":"K2","x":0.33,"e":-1.51},
{"s":"K3","x":0,"e":-0.31},{"s":"K3","x":0.074,"e":-0.26},{"s":"K3","x":0.11,"e":-0.30},{"s":"K3","x":0.15,"e":-0.42},{"s":"K3","x":0.185,"e":-0.62},{"s":"K3","x":0.215,"e":-0.80},{"s":"K3","x":0.243,"e":-0.96},{"s":"K3","x":0.29,"e":-1.26},{"s":"K3","x":0.336,"e":-1.51},
{"s":"K4","x":0,"e":-0.436},{"s":"K4","x":0.082,"e":-0.386},{"s":"K4","x":0.12,"e":-0.43},{"s":"K4","x":0.155,"e":-0.54},{"s":"K4","x":0.19,"e":-0.70},{"s":"K4","x":0.22,"e":-0.85},{"s":"K4","x":0.243,"e":-0.965},{"s":"K4","x":0.295,"e":-1.28},{"s":"K4","x":0.342,"e":-1.51},
{"s":"K5","x":0,"e":-0.55},{"s":"K5","x":0.096,"e":-0.50},{"s":"K5","x":0.13,"e":-0.54},{"s":"K5","x":0.165,"e":-0.64},{"s":"K5","x":0.20,"e":-0.78},{"s":"K5","x":0.243,"e":-0.97},{"s":"K5","x":0.30,"e":-1.30},{"s":"K5","x":0.348,"e":-1.51},
{"s":"K6","x":0,"e":-0.688},{"s":"K6","x":0.111,"e":-0.625},{"s":"K6","x":0.145,"e":-0.66},{"s":"K6","x":0.18,"e":-0.75},{"s":"K6","x":0.21,"e":-0.85},{"s":"K6","x":0.243,"e":-0.975},{"s":"K6","x":0.305,"e":-1.32},{"s":"K6","x":0.354,"e":-1.51},
{"s":"K7","x":0,"e":-0.802},{"s":"K7","x":0.126,"e":-0.739},{"s":"K7","x":0.16,"e":-0.77},{"s":"K7","x":0.19,"e":-0.84},{"s":"K7","x":0.243,"e":-0.98},{"s":"K7","x":0.31,"e":-1.34},{"s":"K7","x":0.36,"e":-1.51},
{"s":"K8","x":0,"e":-0.915},{"s":"K8","x":0.148,"e":-0.84},{"s":"K8","x":0.175,"e":-0.86},{"s":"K8","x":0.20,"e":-0.90},{"s":"K8","x":0.243,"e":-0.985},{"s":"K8","x":0.315,"e":-1.36},{"s":"K8","x":0.365,"e":-1.51},
{"s":"K9","x":0,"e":-1.016},{"s":"K9","x":0.162,"e":-0.928},{"s":"K9","x":0.20,"e":-0.95},{"s":"K9","x":0.243,"e":-0.99},{"s":"K9","x":0.32,"e":-1.38},{"s":"K9","x":0.37,"e":-1.51},
{"s":"K10","x":0,"e":-1.091},{"s":"K10","x":0.184,"e":-0.99},{"s":"K10","x":0.215,"e":-0.99},{"s":"K10","x":0.243,"e":-1.0},{"s":"K10","x":0.325,"e":-1.40},{"s":"K10","x":0.375,"e":-1.51},
{"s":"R1","x":1,"e":-0.038},{"s":"R1","x":0.952,"e":-0.028},{"s":"R1","x":0.90,"e":-0.09},{"s":"R1","x":0.864,"e":-0.19},{"s":"R1","x":0.82,"e":-0.45},{"s":"R1","x":0.78,"e":-0.76},{"s":"R1","x":0.745,"e":-1.0},{"s":"R1","x":0.70,"e":-1.27},{"s":"R1","x":0.64,"e":-1.51},
{"s":"R2","x":1,"e":-0.184},{"s":"R2","x":0.937,"e":-0.134},{"s":"R2","x":0.89,"e":-0.20},{"s":"R2","x":0.85,"e":-0.36},{"s":"R2","x":0.81,"e":-0.62},{"s":"R2","x":0.75,"e":-1.0},{"s":"R2","x":0.70,"e":-1.31},{"s":"R2","x":0.65,"e":-1.51},
{"s":"R3","x":1,"e":-0.31},{"s":"R3","x":0.922,"e":-0.255},{"s":"R3","x":0.88,"e":-0.32},{"s":"R3","x":0.84,"e":-0.50},{"s":"R3","x":0.80,"e":-0.75},{"s":"R3","x":0.755,"e":-1.0},{"s":"R3","x":0.705,"e":-1.32},{"s":"R3","x":0.655,"e":-1.51},
{"s":"R4","x":1,"e":-0.436},{"s":"R4","x":0.908,"e":-0.373},{"s":"R4","x":0.87,"e":-0.44},{"s":"R4","x":0.83,"e":-0.62},{"s":"R4","x":0.79,"e":-0.85},{"s":"R4","x":0.76,"e":-1.0},{"s":"R4","x":0.71,"e":-1.33},{"s":"R4","x":0.66,"e":-1.51},
{"s":"R5","x":1,"e":-0.562},{"s":"R5","x":0.893,"e":-0.50},{"s":"R5","x":0.86,"e":-0.56},{"s":"R5","x":0.82,"e":-0.72},{"s":"R5","x":0.765,"e":-1.0},{"s":"R5","x":0.715,"e":-1.34},{"s":"R5","x":0.67,"e":-1.51},
{"s":"R6","x":1,"e":-0.688},{"s":"R6","x":0.871,"e":-0.625},{"s":"R6","x":0.84,"e":-0.67},{"s":"R6","x":0.80,"e":-0.83},{"s":"R6","x":0.77,"e":-1.0},{"s":"R6","x":0.72,"e":-1.35},{"s":"R6","x":0.675,"e":-1.51},
{"s":"R7","x":1,"e":-0.814},{"s":"R7","x":0.857,"e":-0.739},{"s":"R7","x":0.825,"e":-0.78},{"s":"R7","x":0.775,"e":-1.0},{"s":"R7","x":0.725,"e":-1.36},{"s":"R7","x":0.68,"e":-1.51},
{"s":"R8","x":1,"e":-0.94},{"s":"R8","x":0.835,"e":-0.852},{"s":"R8","x":0.805,"e":-0.89},{"s":"R8","x":0.78,"e":-1.0},{"s":"R8","x":0.73,"e":-1.37},{"s":"R8","x":0.69,"e":-1.51},
{"s":"R9","x":1,"e":-1.04},{"s":"R9","x":0.82,"e":-0.94},{"s":"R9","x":0.80,"e":-0.96},{"s":"R9","x":0.785,"e":-1.01},{"s":"R9","x":0.735,"e":-1.38},{"s":"R9","x":0.695,"e":-1.51},
{"s":"R10","x":1,"e":-1.117},{"s":"R10","x":0.798,"e":-1.003},{"s":"R10","x":0.79,"e":-1.02},{"s":"R10","x":0.74,"e":-1.39},{"s":"R10","x":0.70,"e":-1.51},
{"s":"BM","x":0.60,"e":-1.50},{"s":"BM","x":0.63,"e":-1.465},{"s":"BM","x":0.66,"e":-1.45},
{"s":"cl1","x":0,"e":-1.03},{"s":"cl1","x":0.035,"e":-1.064},{"s":"cl1","x":0.07,"e":-1.16},{"s":"cl1","x":0.105,"e":-1.318},{"s":"cl1","x":0.14,"e":-1.51},
{"s":"cl2","x":0,"e":-1.04},{"s":"cl2","x":0.0325,"e":-1.073},{"s":"cl2","x":0.065,"e":-1.167},{"s":"cl2","x":0.0975,"e":-1.322},{"s":"cl2","x":0.13,"e":-1.51},
{"s":"cl3","x":0,"e":-1.05},{"s":"cl3","x":0.031,"e":-1.082},{"s":"cl3","x":0.0625,"e":-1.174},{"s":"cl3","x":0.094,"e":-1.326},{"s":"cl3","x":0.125,"e":-1.51},
{"s":"cl4","x":0,"e":-1.06},{"s":"cl4","x":0.029,"e":-1.092},{"s":"cl4","x":0.0575,"e":-1.182},{"s":"cl4","x":0.086,"e":-1.33},{"s":"cl4","x":0.115,"e":-1.51},
{"s":"cl5","x":0,"e":-1.07},{"s":"cl5","x":0.025,"e":-1.101},{"s":"cl5","x":0.05,"e":-1.189},{"s":"cl5","x":0.075,"e":-1.334},{"s":"cl5","x":0.10,"e":-1.51},
{"s":"cl6","x":0,"e":-1.08},{"s":"cl6","x":0.0225,"e":-1.11},{"s":"cl6","x":0.045,"e":-1.196},{"s":"cl6","x":0.0675,"e":-1.338},{"s":"cl6","x":0.09,"e":-1.51},
{"s":"cl7","x":0,"e":-1.10},{"s":"cl7","x":0.02,"e":-1.129},{"s":"cl7","x":0.04,"e":-1.211},{"s":"cl7","x":0.06,"e":-1.346},{"s":"cl7","x":0.08,"e":-1.51},
{"s":"cl8","x":0,"e":-1.15},{"s":"cl8","x":0.016,"e":-1.175},{"s":"cl8","x":0.0325,"e":-1.247},{"s":"cl8","x":0.049,"e":-1.366},{"s":"cl8","x":0.065,"e":-1.51},
{"s":"cl9","x":0,"e":-1.22},{"s":"cl9","x":0.014,"e":-1.24},{"s":"cl9","x":0.0275,"e":-1.298},{"s":"cl9","x":0.041,"e":-1.394},{"s":"cl9","x":0.055,"e":-1.51},
{"s":"cl10","x":0,"e":-1.30},{"s":"cl10","x":0.011,"e":-1.315},{"s":"cl10","x":0.0225,"e":-1.357},{"s":"cl10","x":0.034,"e":-1.426},{"s":"cl10","x":0.045,"e":-1.51},
{"s":"cr1","x":1,"e":-1.03},{"s":"cr1","x":0.96,"e":-1.064},{"s":"cr1","x":0.92,"e":-1.16},{"s":"cr1","x":0.879,"e":-1.318},{"s":"cr1","x":0.839,"e":-1.51},
{"s":"cr2","x":1,"e":-1.04},{"s":"cr2","x":0.963,"e":-1.073},{"s":"cr2","x":0.925,"e":-1.167},{"s":"cr2","x":0.888,"e":-1.322},{"s":"cr2","x":0.85,"e":-1.51},
{"s":"cr3","x":1,"e":-1.05},{"s":"cr3","x":0.964,"e":-1.082},{"s":"cr3","x":0.928,"e":-1.174},{"s":"cr3","x":0.892,"e":-1.326},{"s":"cr3","x":0.856,"e":-1.51},
{"s":"cr4","x":1,"e":-1.06},{"s":"cr4","x":0.967,"e":-1.092},{"s":"cr4","x":0.934,"e":-1.182},{"s":"cr4","x":0.901,"e":-1.33},{"s":"cr4","x":0.868,"e":-1.51},
{"s":"cr5","x":1,"e":-1.07},{"s":"cr5","x":0.971,"e":-1.101},{"s":"cr5","x":0.943,"e":-1.189},{"s":"cr5","x":0.914,"e":-1.334},{"s":"cr5","x":0.885,"e":-1.51},
{"s":"cr6","x":1,"e":-1.08},{"s":"cr6","x":0.974,"e":-1.11},{"s":"cr6","x":0.948,"e":-1.196},{"s":"cr6","x":0.922,"e":-1.338},{"s":"cr6","x":0.897,"e":-1.51},
{"s":"cr7","x":1,"e":-1.10},{"s":"cr7","x":0.977,"e":-1.129},{"s":"cr7","x":0.954,"e":-1.211},{"s":"cr7","x":0.931,"e":-1.346},{"s":"cr7","x":0.908,"e":-1.51},
{"s":"cr8","x":1,"e":-1.15},{"s":"cr8","x":0.982,"e":-1.175},{"s":"cr8","x":0.963,"e":-1.247},{"s":"cr8","x":0.944,"e":-1.366},{"s":"cr8","x":0.925,"e":-1.51},
{"s":"cr9","x":1,"e":-1.22},{"s":"cr9","x":0.984,"e":-1.24},{"s":"cr9","x":0.968,"e":-1.298},{"s":"cr9","x":0.953,"e":-1.394},{"s":"cr9","x":0.937,"e":-1.51},
{"s":"cr10","x":1,"e":-1.30},{"s":"cr10","x":0.987,"e":-1.315},{"s":"cr10","x":0.974,"e":-1.357},{"s":"cr10","x":0.961,"e":-1.426},{"s":"cr10","x":0.948,"e":-1.51}
]
},
"hconcat":[
{
"width":228,"height":527,
"encoding":{
"x":{"field":"x","type":"quantitative","scale":{"domain":[0,1],"nice":false,"zero":false},"axis":{"values":[0,0.425,0.645,1],"labelExpr":"datum.value < 0.2 || datum.value > 0.9 ? 'Γ' : (datum.value < 0.5 ? 'K' : 'M')","ticks":false,"labelFlush":true,"labelOverlap":false,"labelFont":"Liberation Serif","labelFontSize":28,"labelColor":"#111","labelPadding":5,"title":null}},
"y":{"field":"e","type":"quantitative","scale":{"domain":[-1.48,2.5],"nice":false,"zero":false},"axis":{"values":[-1.25,-1,-0.75,-0.5,-0.25,0,0.25,0.5,0.75,1,1.25,1.5,1.75,2,2.25],"labelExpr":"abs(datum.value*2 - round(datum.value*2)) < 0.001 ? (datum.value < 0 ? '-' : '') + format(abs(datum.value), '.1f') : ''","tickSize":-5,"labelPadding":7,"labelFont":"DejaVu Sans","labelFontSize":23,"labelColor":"#333","title":"Energy (eV)","titleFont":"Liberation Sans","titleFontSize":28,"titleFontWeight":"normal","titleColor":"#333","titlePadding":0}}
},
"layer":[
{"data":{"name":"p1"},"mark":{"type":"line","clip":true,"color":"#e8161d","strokeWidth":1.1,"interpolate":"monotone"},"encoding":{"detail":{"field":"s"}}},
{"data":{"values":[{"x":0.228,"e":0.571,"t":"L"}]},"mark":{"type":"text","font":"DejaVu Sans","fontWeight":"bold","fontStyle":"italic","fontSize":22.5,"align":"left","baseline":"middle","color":"#111"},"encoding":{"text":{"field":"t"}}},
{"data":{"values":[{"x":0.325,"e":0.571,"t":"= 1-layer"}]},"mark":{"type":"text","font":"DejaVu Sans","fontWeight":"bold","fontSize":22.5,"align":"left","baseline":"middle","color":"#111"},"encoding":{"text":{"field":"t"}}},
{"data":{"values":[{"x":-0.765,"e":1.46,"t":"Bottom of"},{"x":-0.765,"e":1.21,"t":"conduction band"},{"x":-0.755,"e":0.05,"t":"Top of"},{"x":-0.755,"e":-0.20,"t":"valence band"}]},"mark":{"type":"text","font":"Open Sans","fontSize":24,"align":"center","baseline":"middle","color":"#222"},"encoding":{"text":{"field":"t"}}},
{"data":{"values":[{"x":-0.49,"x2":-0.03,"e":1.36},{"x":-0.49,"x2":0.079,"e":-0.048}]},"mark":{"type":"rule","strokeWidth":1.5,"color":"#000"},"encoding":{"x2":{"field":"x2"}}},
{"data":{"values":[{"x":-0.025,"e":1.36},{"x":0.084,"e":-0.048}]},"mark":{"type":"point","shape":"triangle-right","filled":true,"size":140,"color":"#000","opacity":1},"encoding":{}}
]
},
{
"width":228,"height":527,
"encoding":{
"x":{"field":"x","type":"quantitative","scale":{"domain":[0,1],"nice":false,"zero":false},"axis":{"values":[0,0.425,0.645,1],"labelExpr":"datum.value < 0.2 || datum.value > 0.9 ? 'Γ' : (datum.value < 0.5 ? 'K' : 'M')","ticks":false,"labelFlush":true,"labelOverlap":false,"labelFont":"Liberation Serif","labelFontSize":28,"labelColor":"#111","labelPadding":5,"title":null}},
"y":{"field":"e","type":"quantitative","scale":{"domain":[-1.48,2.5],"nice":false,"zero":false},"axis":{"values":[-1.25,-1,-0.75,-0.5,-0.25,0,0.25,0.5,0.75,1,1.25,1.5,1.75,2,2.25],"labels":false,"tickSize":-5,"title":null}}
},
"layer":[
{"data":{"name":"p2"},"mark":{"type":"line","clip":true,"color":"#e8161d","strokeWidth":1.1,"interpolate":"monotone"},"encoding":{"detail":{"field":"s"}}},
{"data":{"values":[{"x":0.5,"e":0.571,"t":"5-layer"}]},"mark":{"type":"text","font":"DejaVu Sans","fontWeight":"bold","fontSize":22.5,"align":"center","baseline":"middle","color":"#111"},"encoding":{"text":{"field":"t"}}}
]
},
{
"width":228,"height":527,
"encoding":{
"x":{"field":"x","type":"quantitative","scale":{"domain":[0,1],"nice":false,"zero":false},"axis":{"values":[0,0.425,0.645,1],"labelExpr":"datum.value < 0.2 || datum.value > 0.9 ? 'Γ' : (datum.value < 0.5 ? 'K' : 'M')","ticks":false,"labelFlush":true,"labelOverlap":false,"labelFont":"Liberation Serif","labelFontSize":28,"labelColor":"#111","labelPadding":5,"title":null}},
"y":{"field":"e","type":"quantitative","scale":{"domain":[-1.48,2.5],"nice":false,"zero":false},"axis":{"values":[-1.25,-1,-0.75,-0.5,-0.25,0,0.25,0.5,0.75,1,1.25,1.5,1.75,2,2.25],"labels":false,"tickSize":-5,"title":null}}
},
"layer":[
{"data":{"name":"p3"},"mark":{"type":"line","clip":true,"color":"#e8161d","strokeWidth":1.1,"interpolate":"monotone"},"encoding":{"detail":{"field":"s"}}},
{"data":{"values":[{"x":0.5,"e":0.571,"t":"10-layer"}]},"mark":{"type":"text","font":"DejaVu Sans","fontWeight":"bold","fontSize":22.5,"align":"center","baseline":"middle","color":"#111"},"encoding":{"text":{"field":"t"}}}
]
}
]
}
